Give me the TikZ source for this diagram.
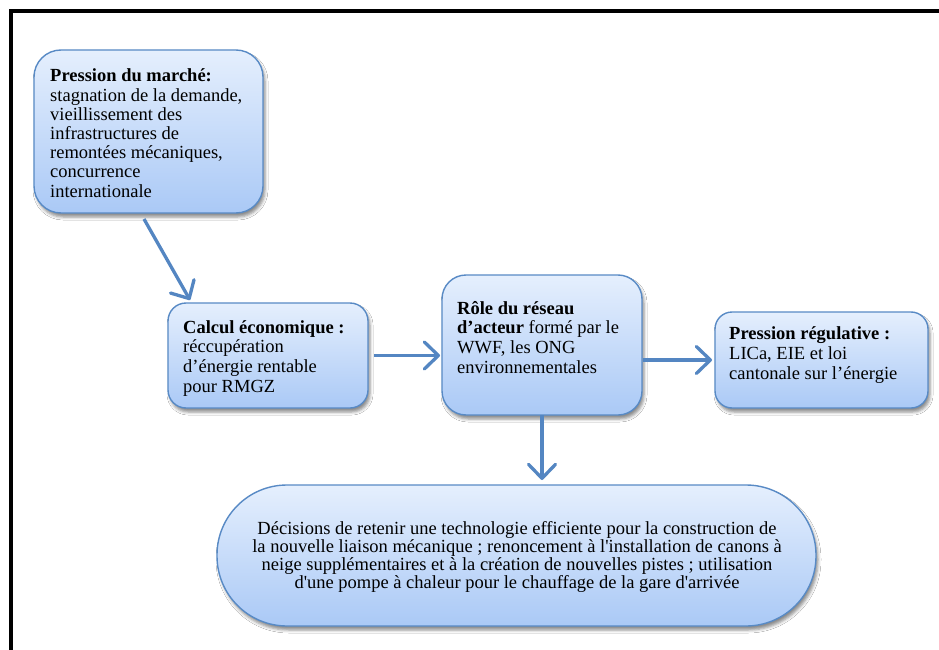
\documentclass[tikz,border=0pt]{standalone}
\usepackage{fontspec}
\setmainfont{Liberation Serif}
\usetikzlibrary{arrows.meta,calc,shadows.blur}
\definecolor{topc}{RGB}{229,239,253}
\definecolor{botc}{RGB}{170,201,246}
\definecolor{bordc}{RGB}{88,138,197}
\definecolor{arrc}{RGB}{84,134,194}
\tikzset{
  box/.style={draw=bordc, line width=1.4pt, top color=topc, bottom color=botc,
    anchor=north west, inner sep=0pt, outer sep=0pt,
    blur shadow={shadow xshift=2pt, shadow yshift=-4pt, shadow blur radius=3pt, shadow opacity=45}},
  txt/.style={anchor=base west, inner sep=0pt, align=left, font=\fontsize{18.5}{19.6}\selectfont},
  arr/.style={draw=arrc, line width=3.3pt, -{Straight Barb[length=14pt,width=27pt,round]}},
  frameline/.style={draw=black, line width=3.2pt}
}
\begin{document}
\begin{tikzpicture}[x=1pt,y=-1pt]
\useasboundingbox (0,0) rectangle (939,650);
\fill[white] (0,0) rectangle (939,650);
\draw[frameline] (11,660) -- (11,11) -- (950,11);

\node[box, rounded corners=27pt, minimum width=229pt, minimum height=163pt] (A) at (34,50) {};
\node[box, rounded corners=18pt, minimum width=200pt, minimum height=105pt] (B) at (168,303) {};
\node[box, rounded corners=24pt, minimum width=200pt, minimum height=140pt] (C) at (442,275) {};
\node[box, rounded corners=17pt, minimum width=213pt, minimum height=96pt] (D) at (715,312) {};
\node[box, rounded corners=70pt, minimum width=599pt, minimum height=141pt] (E) at (217,485) {};

\node[txt, font=\fontsize{18.5}{19.2}\selectfont] (tA) at (50,197) {\textbf{Pression du marché:}\\stagnation de la demande,\\vieillissement des\\infrastructures de\\remontées mécaniques,\\concurrence\\internationale};
\node[txt] (tB) at (183,392) {\textbf{Calcul économique :}\\réccupération\\d’énergie rentable\\pour RMGZ};
\node[txt] (tC) at (457,373) {\textbf{Rôle du réseau}\\\textbf{d’acteur} formé par le\\WWF, les ONG\\environnementales};
\node[txt] (tD) at (729,379) {\textbf{Pression régulative :}\\LICa, EIE et loi\\cantonale sur l’énergie};
\node[anchor=base, inner sep=0pt, align=center, font=\fontsize{18.5}{18}\selectfont] (tE) at (517,588)
  {Décisions de retenir une technologie efficiente pour la construction de\\
   la nouvelle liaison mécanique ; renoncement à l\textquotesingle installation de canons à\\
   neige supplémentaires et à la création de nouvelles pistes ; utilisation\\
   d\textquotesingle une pompe à chaleur pour le chauffage de la gare d\textquotesingle arrivée};

\draw[arr] ([xshift=110pt,yshift=-6pt]A.south west) -- ([xshift=22pt,yshift=3pt]B.north west);
\draw[arr, shorten <=6pt, shorten >=2pt] (B.east) -- (B.east -| C.west);
\draw[arr, shorten <=1pt, shorten >=3pt] (D.west -| C.east) -- (D.west);
\draw[arr, shorten >=5pt] (C.south) -- (C.south |- E.north);
\end{tikzpicture}
\end{document}
